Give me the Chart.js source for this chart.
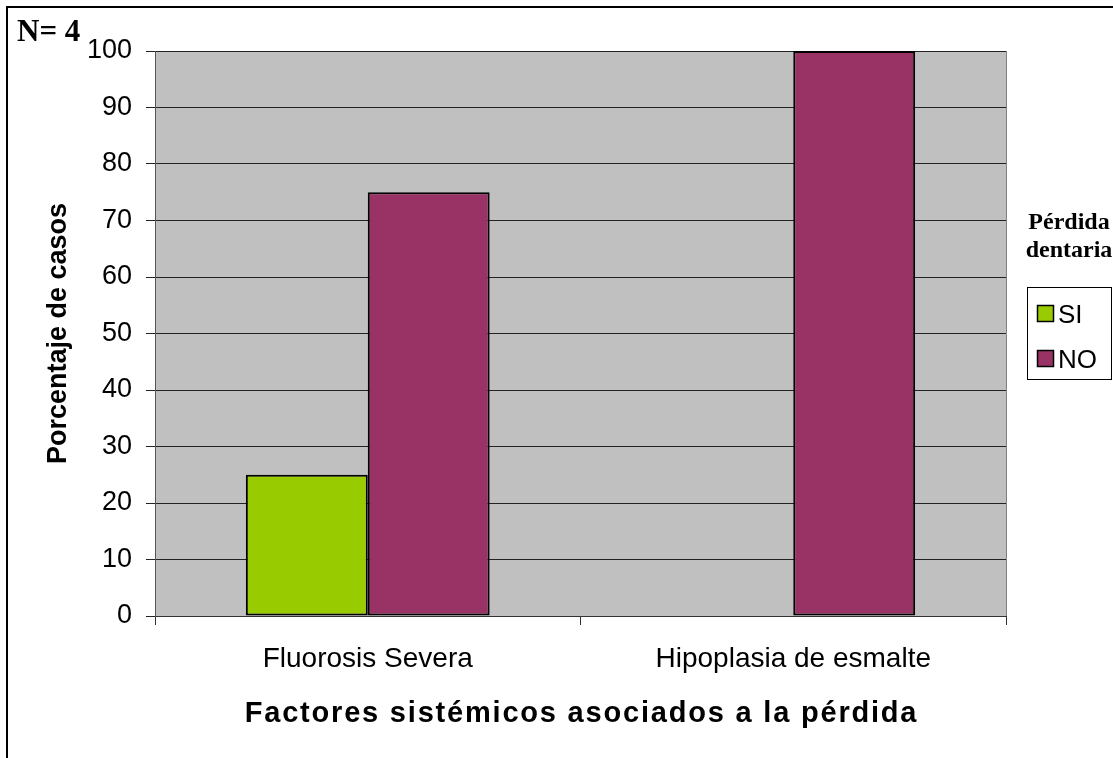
<!DOCTYPE html>
<html>
<head>
<meta charset="utf-8">
<title>Factores sistémicos</title>
<script src="https://cdn.jsdelivr.net/npm/chart.js@4"></script>
<style>
  body { margin: 0; background: #fff; }
  canvas { display: block; }
</style>
</head>
<body>
<canvas id="grafica" width="1113" height="758"></canvas>
<script>
// datos de la grafica
var factores = ['Fluorosis Severa', 'Hipoplasia de esmalte'];
var perdida_si = [25, 0];
var perdida_no = [75, 100];
var series = ['SI', 'NO'];
var colores = ['#99CC00', '#993366'];
var n_total = 'N= 4';
var titulo_x = 'Factores sistémicos asociados a la pérdida';
var titulo_leyenda = ['Pérdida', 'dentaria'];

var sans = '"Liberation Sans", Arial, sans-serif';
var serif = '"Liberation Serif", "Times New Roman", serif';

// fondo gris del area de trazado y marco
var fondo = {
    id: 'fondo',
    beforeDraw: function(chart){
        var ctx = chart.ctx;
        var a = chart.chartArea;
        ctx.save();
        ctx.fillStyle = '#fff';
        ctx.fillRect(0, 0, chart.width, chart.height);
        ctx.fillStyle = '#C0C0C0';
        ctx.fillRect(a.left, a.top, a.right - a.left, a.bottom - a.top);
        // borde derecho gris
        ctx.strokeStyle = '#808080';
        ctx.lineWidth = 1;
        ctx.beginPath();
        ctx.moveTo(a.right + 0.5, a.top);
        ctx.lineTo(a.right + 0.5, a.bottom);
        ctx.stroke();
        // marco exterior
        ctx.strokeStyle = '#000';
        ctx.lineWidth = 2;
        ctx.beginPath();
        ctx.moveTo(7, chart.height);
        ctx.lineTo(7, 7);
        ctx.lineTo(chart.width, 7);
        ctx.stroke();
        ctx.restore();
    }
};

// titulo del eje x, texto N y leyenda a la derecha
var extras = {
    id: 'extras',
    afterDraw: function(chart){
        var ctx = chart.ctx;
        var ex = chart.scales.x;
        ctx.save();
        ctx.fillStyle = '#000';

        // titulo eje x con letras algo espaciadas
        ctx.font = 'bold 29px ' + sans;
        ctx.textAlign = 'center';
        ctx.textBaseline = 'alphabetic';
        ctx.letterSpacing = '1.8px';
        ctx.fillText(titulo_x, (ex.left + ex.right) / 2 + 1, ex.bottom - 36);
        ctx.letterSpacing = '0px';

        ctx.textAlign = 'left';
        ctx.font = 'bold 31px ' + serif;
        ctx.fillText(n_total, 17, 41);

        ctx.font = 'bold 24px ' + serif;
        ctx.textAlign = 'center';
        ctx.fillText(titulo_leyenda[0], 1069, 229);
        ctx.fillText(titulo_leyenda[1], 1069, 257);

        // caja de la leyenda
        ctx.strokeStyle = '#000';
        ctx.lineWidth = 1;
        ctx.strokeRect(1027.5, 287.5, 84, 92);
        ctx.textAlign = 'left';
        ctx.font = '26px ' + sans;
        chart.data.datasets.forEach(function(ds, i){
            var y = 305 + i * 45;
            ctx.fillStyle = ds.backgroundColor;
            ctx.fillRect(1037, y, 17, 17);
            ctx.strokeStyle = '#000';
            ctx.lineWidth = 1.5;
            ctx.strokeRect(1037.5, y + 0.5, 16, 16);
            ctx.fillStyle = '#000';
            ctx.fillText(ds.label, 1058, y + 18);
        });
        ctx.restore();
    }
};

var ctx = document.getElementById('grafica').getContext('2d');
var grafica = new Chart(ctx, {
    type: 'bar',
    data: {
        labels: factores,
        datasets: [{
            label: series[0],
            data: perdida_si,
            backgroundColor: colores[0],
            borderColor: '#000',
            borderWidth: 2,
            borderSkipped: false
        }, {
            label: series[1],
            data: perdida_no,
            backgroundColor: colores[1],
            borderColor: '#000',
            borderWidth: 2,
            borderSkipped: false
        }]
    },
    options: {
        responsive: false,
        animation: false,
        devicePixelRatio: 1,
        layout: { padding: { top: 51, right: 107, bottom: 0, left: 0 } },
        datasets: { bar: { categoryPercentage: 0.573, barPercentage: 1 } },
        plugins: {
            legend: { display: false },
            tooltip: { enabled: false }
        },
        scales: {
            x: {
                grid: { drawOnChartArea: false, drawTicks: true, tickLength: 9, color: '#333' },
                border: { color: '#333', width: 1 },
                ticks: {
                    color: '#000',
                    padding: 17,
                    font: { family: sans, size: 28 }
                },
                afterFit: function(scale){ scale.height = 142; }
            },
            y: {
                min: 0,
                max: 100,
                ticks: {
                    stepSize: 10,
                    color: '#000',
                    padding: 14,
                    font: { family: sans, size: 27 }
                },
                grid: { color: '#222', lineWidth: 1, tickLength: 9 },
                border: { color: '#555', width: 1 },
                title: {
                    display: true,
                    text: 'Porcentaje de casos',
                    color: '#000',
                    font: { family: sans, size: 27, weight: 'bold' },
                    padding: { top: 42, bottom: 0 }
                },
                afterFit: function(scale){ scale.width = 155; }
            }
        }
    },
    plugins: [fondo, extras]
});
</script>
</body>
</html>
